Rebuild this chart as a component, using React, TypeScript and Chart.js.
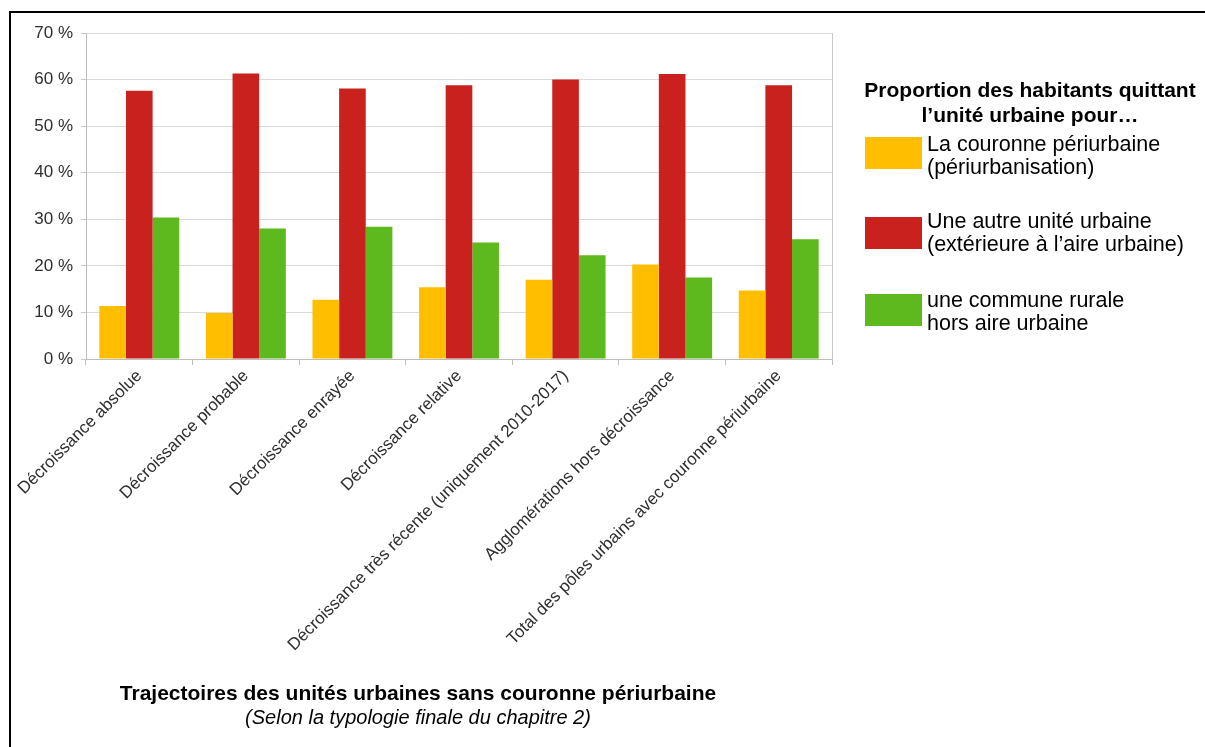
import React, { useEffect, useRef } from "react";
import { Chart, registerables } from "chart.js";

Chart.register(...registerables);

const categories = [
  "Décroissance absolue",
  "Décroissance probable",
  "Décroissance enrayée",
  "Décroissance relative",
  "Décroissance très récente (uniquement 2010-2017)",
  "Agglomérations hors décroissance",
  "Total des pôles urbains avec couronne périurbaine",
];

const periurbain = [11.4, 9.9, 12.7, 15.4, 17.0, 20.3, 14.7];
const autreUnite = [57.6, 61.3, 58.1, 58.8, 60.0, 61.2, 58.8];
const communeRurale = [30.4, 28.0, 28.4, 25.0, 22.3, 17.5, 25.7];

const seriesNames = [
  ["La couronne périurbaine", "(périurbanisation)"],
  ["Une autre unité urbaine", "(extérieure à l’aire urbaine)"],
  ["une commune rurale", "hors aire urbaine"],
];
const seriesColors = ["#ffbf00", "#c9211e", "#5eb91e"];

const legendTitle = ["Proportion des habitants quittant", "l’unité urbaine pour…"];
const axisTitle = "Trajectoires des unités urbaines sans couronne périurbaine";
const axisSubtitle = "(Selon la typologie finale du chapitre 2)";

const FONT = "'Liberation Sans', Arial, Helvetica, sans-serif";

export default function App() {
  const canvasRef = useRef<HTMLCanvasElement | null>(null);

  useEffect(() => {
    document.body.style.margin = "0";
    const canvas = canvasRef.current;
    if (!canvas) return;
    const values = [periurbain, autreUnite, communeRurale];
    const chart = new Chart(canvas, {
      type: "bar",
      data: {
        labels: categories,
        datasets: values.map((v, i) => ({
          label: seriesNames[i].join(" "),
          data: v,
          backgroundColor: seriesColors[i],
          borderWidth: 0,
          categoryPercentage: 0.75,
          barPercentage: 1,
        })),
      },
      options: {
        animation: false,
        responsive: false,
        devicePixelRatio: 1,
        layout: { padding: { left: 6, top: 33, right: 373, bottom: 0 } },
        plugins: {
          legend: { display: false },
          tooltip: { enabled: false },
        },
        scales: {
          x: {
            afterFit: (scale: any) => {
              scale.height = 388;
            },
            grid: {
              offset: true,
              drawOnChartArea: true,
              color: (ctx: any) => (ctx.type === "tick" ? "rgba(0,0,0,0)" : "#c8c8c8"),
              tickColor: "#bdbdbd",
              tickLength: 6,
            },
            border: { color: "#bdbdbd" },
            ticks: {
              minRotation: 45,
              maxRotation: 45,
              autoSkip: false,
              padding: 1,
              color: "#2e2e2e",
              font: { family: FONT, size: 17 },
            },
          },
          y: {
            min: 0,
            max: 70,
            afterFit: (scale: any) => {
              scale.width = 80;
            },
            grid: {
              color: "#dadada",
              tickColor: "#c8c8c8",
              tickLength: 5,
            },
            border: { color: "#bdbdbd" },
            ticks: {
              stepSize: 10,
              padding: 8,
              color: "#2e2e2e",
              font: { family: FONT, size: 17 },
              callback: (v: any) => v + " %",
            },
          },
        },
      },
    });
    return () => chart.destroy();
  }, []);

  const textBase: React.CSSProperties = {
    position: "absolute",
    fontFamily: FONT,
    color: "#000",
    whiteSpace: "nowrap",
  };

  const itemTops = [133, 210, 289];
  const boxTops = [137, 217, 294];

  return (
    <div
      style={{
        position: "fixed",
        left: 0,
        top: 0,
        width: 1205,
        height: 747,
        background: "#fff",
        overflow: "hidden",
      }}
    >
      <canvas
        ref={canvasRef}
        width={1205}
        height={747}
        style={{ position: "absolute", left: 0, top: 0, width: 1205, height: 747 }}
      />
      <div
        style={{
          position: "absolute",
          left: 9,
          top: 11,
          width: 1300,
          height: 800,
          borderTop: "2px solid #000",
          borderLeft: "2px solid #000",
          pointerEvents: "none",
        }}
      />
      <div
        style={{
          ...textBase,
          left: 830,
          width: 400,
          top: 77,
          textAlign: "center",
          fontWeight: "bold",
          fontSize: 21,
          lineHeight: "25px",
        }}
      >
        {legendTitle.map((t, i) => (
          <div key={i}>{t}</div>
        ))}
      </div>
      {seriesNames.map((lines, i) => (
        <React.Fragment key={i}>
          <div
            style={{
              position: "absolute",
              left: 865,
              top: boxTops[i],
              width: 57,
              height: 32,
              background: seriesColors[i],
            }}
          />
          <div
            style={{
              ...textBase,
              left: 927,
              top: itemTops[i],
              fontSize: 21.5,
              lineHeight: "23px",
            }}
          >
            {lines.map((t, j) => (
              <div key={j}>{t}</div>
            ))}
          </div>
        </React.Fragment>
      ))}
      <div
        style={{
          ...textBase,
          left: 118,
          width: 600,
          top: 680,
          textAlign: "center",
          fontWeight: "bold",
          fontSize: 21,
          lineHeight: "25px",
        }}
      >
        {axisTitle}
      </div>
      <div
        style={{
          ...textBase,
          left: 118,
          width: 600,
          top: 705,
          textAlign: "center",
          fontStyle: "italic",
          fontSize: 20,
          lineHeight: "24px",
        }}
      >
        {axisSubtitle}
      </div>
    </div>
  );
}
